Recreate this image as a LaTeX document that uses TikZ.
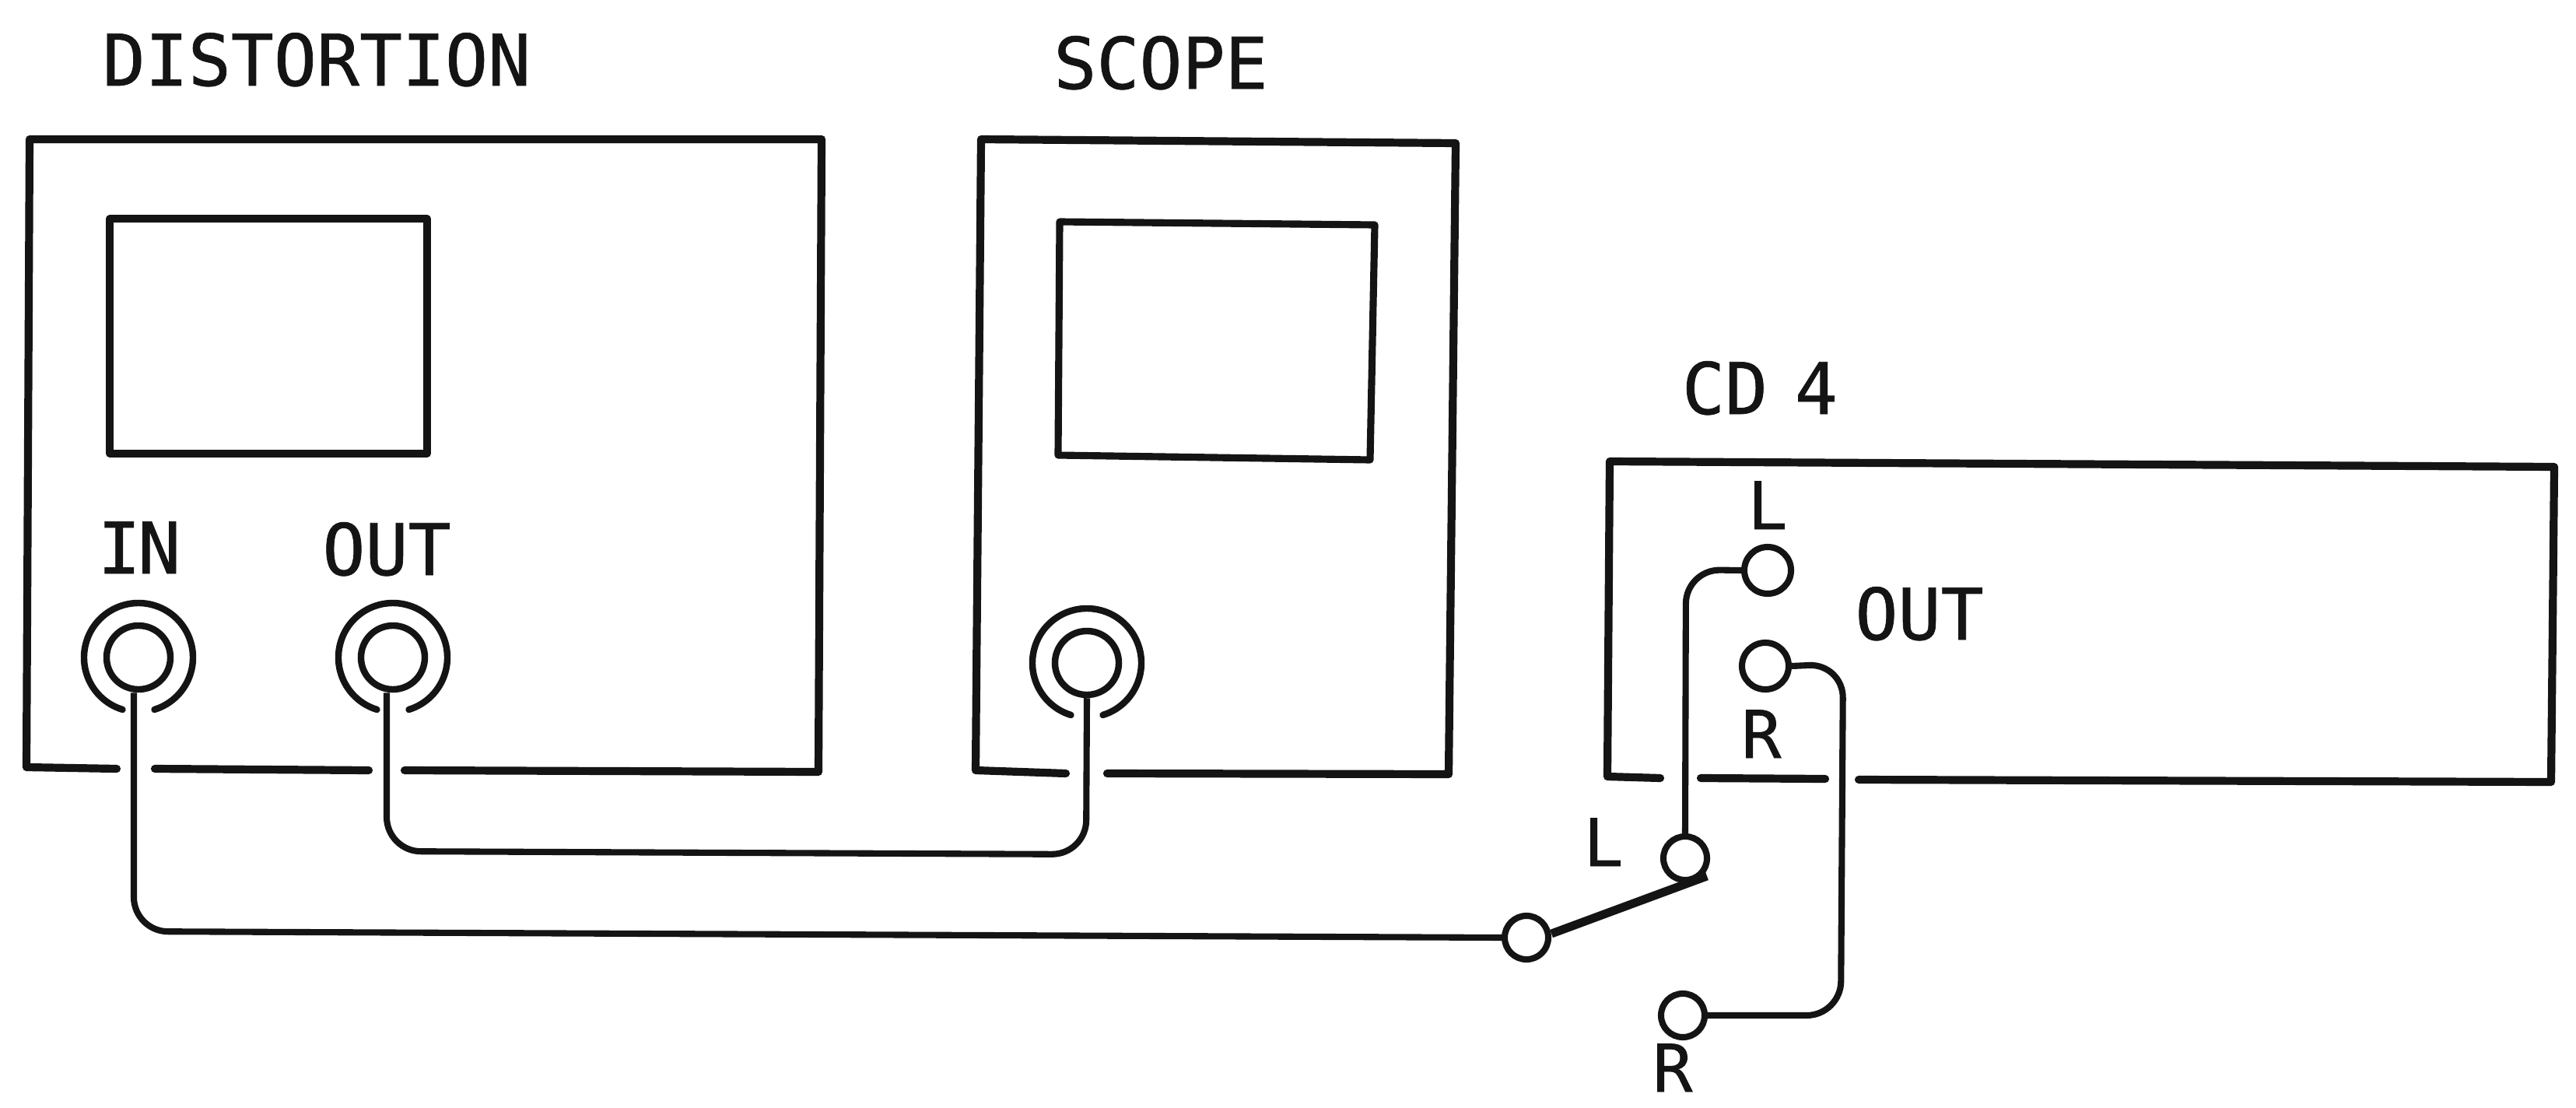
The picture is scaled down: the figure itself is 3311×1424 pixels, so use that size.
\documentclass[tikz,border=0pt]{standalone}
\usepackage{fontspec}
\setmainfont{DejaVu Sans Mono}[RawFeature={embolden=0.8}]
\tikzset{
  x=0.01cm, y=-0.01cm,
  box/.style={line width=2.9pt, line join=round, line cap=round, black!92},
  screen/.style={line width=2.6pt, line join=round, black!92},
  wire/.style={line width=2.3pt, rounded corners=12.5pt, black!92},
  jack/.style={circle, draw=black!92, line width=2.4pt, fill=white, inner sep=0pt, minimum size=0.82cm},
  term/.style={circle, draw=black!92, line width=2.3pt, fill=white, inner sep=0pt, minimum size=0.56cm},
  ojack/.style={term, minimum size=0.6cm},
  lbl/.style={inner sep=0pt, anchor=base, font=\fontsize{26}{26}\selectfont, text=black!92},
  slbl/.style={lbl, font=\fontsize{24}{24}\selectfont},
  ring/.style={line width=2.4pt, line cap=round, black!92}
}
\begin{document}
\begin{tikzpicture}
\useasboundingbox (0,0) rectangle (3311,1424);
\fill[white] (0,0) rectangle (3311,1424);
% Distortion
\draw[box] (150,988) -- (34,986) -- (38,179) -- (1056,179) -- (1052,992) -- (520,990);
\draw[box] (199,988) -- (474,990);
\draw[screen] (141,281) rectangle (549,583);
% Scope
\draw[box] (1370,994) -- (1254,990) -- (1261,179) -- (1871,184) -- (1862,995) -- (1423,994);
\draw[screen] (1362,285) -- (1767,289) -- (1761,591) -- (1360,585) -- cycle;
% CD 4
\draw[box] (2134,1000) -- (2066,998) -- (2069,593) -- (3283,600) -- (3279,1005) -- (2389,1002);
\draw[box] (2186,1000) -- (2346,1001);
% rings
\coordinate (cIn) at (178,845);
\coordinate (cOut) at (505,845);
\coordinate (cSc) at (1397,852);
\foreach \c in {cIn,cOut,cSc}
  \draw[ring] (\c) ++(107:70) arc[start angle=107,end angle=433,radius=70];
\node[jack] (jIn) at (cIn) {};
\node[jack] (jOut) at (cOut) {};
\node[jack] (jSc) at (cSc) {};
% terminals
\node[term] (sw) at (1962,1205) {};
\node[term] (tL) at (2166,1103) {};
\node[term] (tR) at (2163,1305) {};
\node[ojack] (oL) at (2272,733) {};
\node[ojack] (oR) at (2269,856) {};
% wires
\draw[wire] (jIn.south) ++(-6,0) -- (172,1197) -- (sw.west);
\draw[wire] (jOut.south) ++(-8,0) -- (497,1094) -- (1396,1098) -- (jSc.south);
\draw[wire] (oL.west) -- (2167,732) -- (tL.north);
\draw[wire] (oR.east) -- (2369,853) -- (2366,1305) -- (tR.east);
\coordinate (leverEnd) at (2194,1126);
\draw[line width=3.1pt, black!92] (sw.east) ++(0,-5) -- (leverEnd);
% labels
\node[lbl] (tDist) at (407,110) {DISTORTION};
\node[lbl] (tScope) at (1492,114) {SCOPE};
\node[lbl] (tCd) at (2262,532) {CD\kern-0.22em\ 4};
\node[lbl] (tIn) at (179,737) {I\kern-0.04em N};
\node[lbl] (tOutA) at (497,739) {OUT};
\node[slbl] (tL1) at (2272,680) {L};
\node[lbl] (tOutB) at (2467,822) {OUT};
\node[slbl] (tR1) at (2264,974) {R};
\node[slbl] (tL2) at (2061,1113) {L};
\node[slbl] (tR2) at (2150,1403) {R};
\end{tikzpicture}
\end{document}
